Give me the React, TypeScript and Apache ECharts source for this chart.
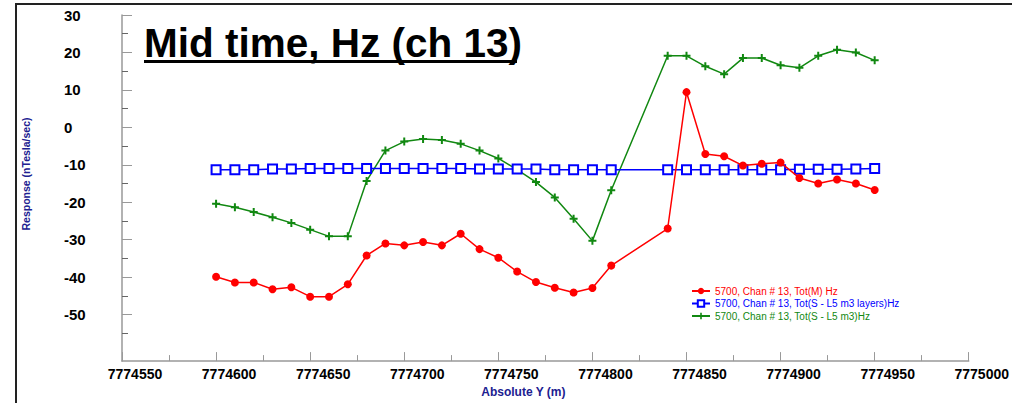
import React, { useEffect, useRef } from "react";
import * as echarts from "echarts";

const positions = [
  7774600, 7774610, 7774620, 7774630, 7774640, 7774650, 7774660, 7774670, 7774680, 7774690,
  7774700, 7774710, 7774720, 7774730, 7774740, 7774750, 7774760, 7774770, 7774780, 7774790,
  7774800, 7774810, 7774840, 7774850, 7774860, 7774870, 7774880, 7774890, 7774900, 7774910,
  7774920, 7774930, 7774940, 7774950,
];

const totM = [
  -39.9, -41.4, -41.4, -43.2, -42.7, -45.2, -45.2, -41.9, -34.2, -31.0,
  -31.5, -30.6, -31.5, -28.4, -32.5, -34.8, -38.5, -41.3, -42.8, -44.1,
  -42.9, -36.9, -27.0, 9.4, -7.1, -7.7, -10.2, -9.7, -9.4, -13.5,
  -15.0, -13.9, -15.0, -16.7,
];

const totSLayers = [
  -11.3, -11.3, -11.3, -11.1, -11.1, -11.0, -11.0, -11.0, -11.0, -11.0,
  -11.0, -11.0, -11.0, -11.0, -11.1, -11.1, -11.1, -11.1, -11.3, -11.3,
  -11.3, -11.3, -11.3, -11.3, -11.3, -11.3, -11.3, -11.3, -11.3, -11.2,
  -11.2, -11.2, -11.1, -11.0,
];

const totSM3 = [
  -20.4, -21.3, -22.6, -24.0, -25.5, -27.3, -29.1, -29.1, -14.3, -6.2,
  -3.8, -3.1, -3.4, -4.4, -6.2, -8.3, -11.3, -14.6, -18.7, -24.4,
  -30.3, -16.8, 19.1, 19.1, 16.3, 14.2, 18.5, 18.5, 16.6, 15.9,
  19.1, 20.7, 20.0, 17.9,
];

const seriesNames = [
  "5700, Chan # 13, Tot(M) Hz",
  "5700, Chan # 13, Tot(S - L5 m3 layers)Hz",
  "5700, Chan # 13, Tot(S - L5 m3)Hz",
];

const yMajorTicks = [30, 20, 10, 0, -10, -20, -30, -40, -50];
const yMinorTicks = [25, 15, 5, -5, -15, -25, -35, -45, -55];

const titleText = "Mid time, Hz (ch 13)";
const xTitle = "Absolute Y (m)";
const yTitle = "Response (nTesla/sec)";

const RED = "#ff0000";
const BLUE = "#0000ff";
const GREEN = "#118811";
const PLUS = "path://M3,0H5V3H8V5H5V8H3V5H0V3H3Z";

export default function App() {
  const ref = useRef<HTMLDivElement>(null);
  useEffect(() => {
    document.body.style.margin = "0";
    const chart = echarts.init(ref.current!, null, { renderer: "svg" });
    const pair = (vals: number[]) => positions.map((x, i) => [x, vals[i]]);
    const axisColor = "#999999";
    const yMin = -62.4;
    const yMax = 30;
    chart.setOption({
      animation: false,
      backgroundColor: "#ffffff",
      title: {
        text: titleText,
        left: 139,
        top: 17,
        textStyle: {
          fontFamily: "Liberation Sans, Arial, sans-serif",
          fontSize: 40.5,
          fontWeight: "bold",
          color: "#000000",
        },
      },
      grid: { left: 122, top: 15, right: 41.3, bottom: 35, containLabel: false },
      legend: {
        orient: "vertical",
        left: 686,
        top: 281,
        itemWidth: 18,
        itemHeight: 8,
        itemGap: 2.5,
        textStyle: { fontFamily: "Liberation Sans, Arial, sans-serif", fontSize: 10 },
        data: [
          { name: seriesNames[0], textStyle: { color: RED } },
          { name: seriesNames[1], textStyle: { color: BLUE } },
          { name: seriesNames[2], textStyle: { color: GREEN } },
        ],
      },
      xAxis: {
        type: "value",
        min: 7774550,
        max: 7775000,
        interval: 50,
        name: xTitle,
        nameLocation: "middle",
        nameGap: 24,
        nameTextStyle: {
          fontFamily: "Liberation Sans, Arial, sans-serif",
          fontSize: 12,
          fontWeight: "bold",
          color: "#202090",
          padding: [0, 44, 0, 0],
        },
        axisLine: { show: true, onZero: false, lineStyle: { color: axisColor, width: 1.5 } },
        axisTick: { show: true, inside: true, length: 9, lineStyle: { color: axisColor, width: 1 } },
        minorTick: { show: true, splitNumber: 2, length: 6, lineStyle: { color: axisColor, width: 1 } },
        splitLine: { show: false },
        axisLabel: {
          show: true,
          margin: 6,
          showMinLabel: true,
          showMaxLabel: true,
          hideOverlap: false,
          padding: [0, 0, 0, 26],
          fontFamily: "Liberation Sans, Arial, sans-serif",
          fontSize: 14,
          fontWeight: "bold",
          color: "#000000",
          formatter: (v: number) => String(v),
        },
      },
      yAxis: [
        {
          type: "value",
          min: yMin,
          max: yMax,
          position: "left",
          axisLine: { show: true, onZero: false, lineStyle: { color: axisColor, width: 1.5 } },
          axisTick: {
            show: true,
            inside: true,
            length: 10,
            customValues: yMajorTicks,
            lineStyle: { color: axisColor, width: 1 },
          },
          splitLine: { show: false },
          axisLabel: {
            show: true,
            customValues: yMajorTicks,
            align: "left",
            margin: 58,
            fontFamily: "Liberation Sans, Arial, sans-serif",
            fontSize: 15,
            fontWeight: "bold",
            color: "#000000",
          },
        },
        {
          type: "value",
          min: yMin,
          max: yMax,
          position: "left",
          offset: 0,
          axisLine: { show: false },
          axisTick: {
            show: true,
            inside: true,
            length: 6,
            customValues: yMinorTicks,
            lineStyle: { color: "#666666", width: 1 },
          },
          splitLine: { show: false },
          axisLabel: { show: false },
        },
      ],
      graphic: [
        {
          type: "rect",
          shape: { x: 16, y: 4, width: 1100, height: 500 },
          style: { fill: "none", stroke: "#222222", lineWidth: 2 },
          silent: true,
        },
        {
          type: "rect",
          shape: { x: 144, y: 60, width: 373, height: 3 },
          style: { fill: "#000000" },
          silent: true,
        },
        {
          type: "text",
          x: 26,
          y: 174,
          rotation: Math.PI / 2,
          style: {
            text: yTitle,
            align: "center",
            verticalAlign: "middle",
            fill: "#202090",
            font: "bold 10.5px 'Liberation Sans', Arial, sans-serif",
          },
          silent: true,
        },
      ],
      series: [
        {
          name: seriesNames[0],
          type: "line",
          data: pair(totM),
          symbol: "circle",
          symbolSize: 8,
          showAllSymbol: true,
          lineStyle: { color: RED, width: 1.5 },
          itemStyle: { color: RED },
          z: 3,
        },
        {
          name: seriesNames[1],
          type: "line",
          data: pair(totSLayers),
          symbol: "emptyRect",
          symbolSize: 9,
          showAllSymbol: true,
          lineStyle: { color: BLUE, width: 1.5 },
          itemStyle: { color: BLUE, borderWidth: 1.5 },
          z: 2,
        },
        {
          name: seriesNames[2],
          type: "line",
          data: pair(totSM3),
          symbol: PLUS,
          symbolSize: 8,
          showAllSymbol: true,
          lineStyle: { color: GREEN, width: 1.5 },
          itemStyle: { color: GREEN },
          z: 1,
        },
      ],
    });
    return () => chart.dispose();
  }, []);
  return <div ref={ref} style={{ width: 1012, height: 403 }} />;
}
